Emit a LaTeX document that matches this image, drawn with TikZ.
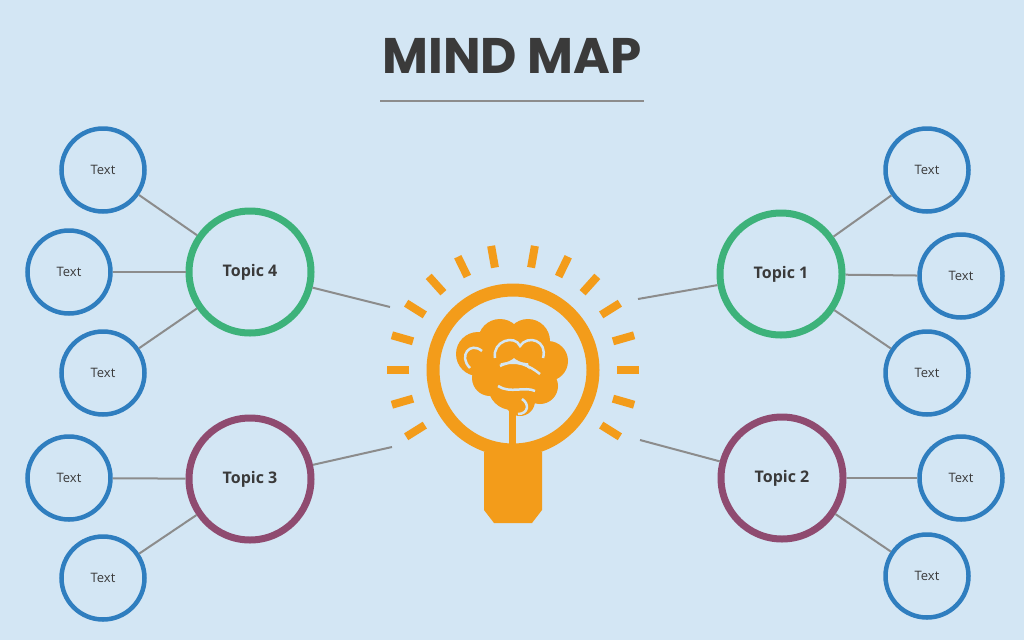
\documentclass[tikz,border=0pt]{standalone}
\usepackage{fontspec}
\usetikzlibrary{calc}
\setmainfont{Open Sans}
\newfontfamily\titlefont{Poppins}
\definecolor{bg}{HTML}{D3E6F4}
\definecolor{cblue}{HTML}{2F7EBF}
\definecolor{cgreen}{HTML}{3DB27A}
\definecolor{cpurple}{HTML}{8F4B70}
\definecolor{corange}{HTML}{F39C1A}
\definecolor{cgray}{HTML}{8C8C8C}
\definecolor{ctext}{HTML}{3A3A3A}
\begin{document}
\begin{tikzpicture}[x=1pt,y=-1pt,
  leaf/.style={circle,draw=cblue,line width=4.5pt,minimum size=83pt,inner sep=0pt,font=\fontsize{13}{13}\selectfont,text=ctext},
  topic/.style={circle,line width=7pt,minimum size=122pt,inner sep=0pt,font=\bfseries\fontsize{16}{16}\selectfont,text=ctext},
  link/.style={cgray,line width=2pt},
  ray/.style={corange,line width=8pt}]
\fill[bg] (0,0) rectangle (1024,640);
\useasboundingbox (0,0) rectangle (1024,640);
\node[font=\titlefont\bfseries\fontsize{50}{50}\selectfont,text=ctext] (title) at (512,56) {MIND MAP};
\draw[cgray,line width=1.5pt] (380,101) -- (644,101);
% bulb
\coordinate (bc) at (513,370);
\foreach \a in {100,116,132,148,164,180,196,212,80,64,48,32,16,0,-16,-32}
  \draw[ray] ($(bc)+(-\a:104)$) -- ($(bc)+(-\a:126)$);
\draw[corange,line width=13pt] (bc) circle (80);
\fill[corange] (484,452) -- (542,452) -- (542,510) -- (532,523) -- (494,523) -- (484,510) -- cycle;
\fill[corange] (509,400) rectangle (516,452);
% brain
\begin{scope}[shift={(0,6)}]
\fill[corange] (478,348) circle (22) (500,335) circle (22) (528,335) circle (22) (548,355) circle (20)
 (540,380) circle (18) (512,380) circle (24) (490,372) circle (18) (520,395) circle (15);
\draw[bg,line width=2.5pt] (470,362) .. controls (458,350) and (470,335) .. (482,345)
  (495,352) .. controls (492,335) and (515,328) .. (520,340) .. controls (528,328) and (548,335) .. (543,352)
  (500,360) .. controls (515,352) and (530,360) .. (540,368)
  (498,380) .. controls (510,388) and (525,380) .. (535,385)
  (522,393) .. controls (530,398) and (528,408) .. (518,408);
\end{scope}
\node[topic,draw=cgreen] (t4) at (250,272) {Topic 4};
\node[topic,draw=cgreen] (t1) at (781,274) {Topic 1};
\node[topic,draw=cpurple] (t3) at (250,479) {Topic 3};
\node[topic,draw=cpurple] (t2) at (782,478) {Topic 2};
\node[leaf] (l1) at (103,170) {Text};
\node[leaf] (l2) at (69,272) {Text};
\node[leaf] (l3) at (103,373) {Text};
\node[leaf] (l4) at (69,478) {Text};
\node[leaf] (l5) at (103,578) {Text};
\node[leaf] (r1) at (927,170) {Text};
\node[leaf] (r2) at (961,276) {Text};
\node[leaf] (r3) at (927,373) {Text};
\node[leaf] (r4) at (961,478) {Text};
\node[leaf] (r5) at (927,576) {Text};
\coordinate (b4) at (390,307);
\coordinate (b1) at (638,299);
\coordinate (b3) at (392,447);
\coordinate (b2) at (640,440);
\draw[link] (b4) -- (t4); \draw[link] (b1) -- (t1);
\draw[link] (b3) -- (t3); \draw[link] (b2) -- (t2);
\foreach \l/\t in {l1/t4,l2/t4,l3/t4,l4/t3,l5/t3,r1/t1,r2/t1,r3/t1,r4/t2,r5/t2}
  \draw[link] (\l) -- (\t);
\end{tikzpicture}
\end{document}
